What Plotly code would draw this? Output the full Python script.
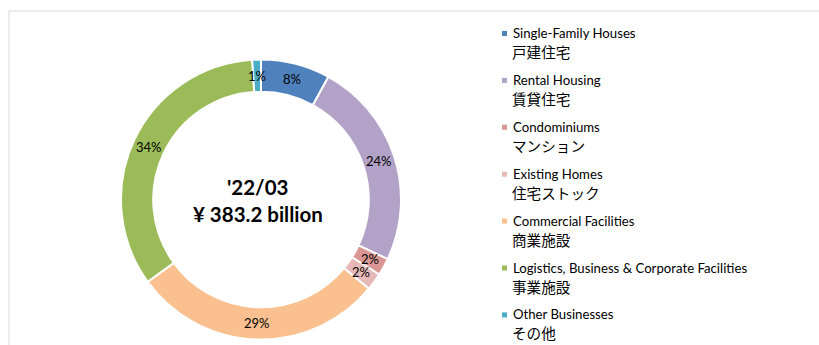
import math
import plotly.graph_objects as go

# Segment breakdown, fiscal year ending March 2022
categories_en = [
    "Single-Family Houses",
    "Rental Housing",
    "Condominiums",
    "Existing Homes",
    "Commercial Facilities",
    "Logistics, Business & Corporate Facilities",
    "Other Businesses",
]
categories_ja = ["戸建住宅", "賃貸住宅", "マンション", "住宅ストック", "商業施設", "事業施設", "その他"]
shares = [8, 24, 2, 2, 29, 34, 1]  # percent of total
colors = ["#4F81BD", "#B3A2C7", "#D99694", "#E6B9B8", "#FAC090", "#9BBB59", "#4BACC6"]
period = "'22/03"
total_label = "¥ 383.2 billion"

W, H = 819, 345
LATIN = "Lato, 'Noto Sans CJK JP', sans-serif"
CJK = "'Noto Sans CJK JP', Lato, sans-serif"

# Donut geometry in pixels
CX, CY, R_OUT = 261, 199.5, 140
HOLE = 0.77
R_MID = R_OUT * (1 + HOLE) / 2


def px(x):
    return x / W


def py(y):
    return 1 - y / H


fig = go.Figure(
    go.Pie(
        values=shares,
        labels=categories_en,
        marker=dict(colors=colors, line=dict(color="white", width=2)),
        hole=HOLE,
        sort=False,
        direction="clockwise",
        rotation=0,
        textinfo="none",
        showlegend=False,
        domain=dict(
            x=[px(CX - R_OUT), px(CX + R_OUT)],
            y=[py(CY + R_OUT), py(CY - R_OUT)],
        ),
    )
)

annotations = []

# Percentage labels placed at the middle of each ring segment
total = sum(shares)
cum = 0
for v in shares:
    mid = (cum + v / 2) / total * 2 * math.pi
    cum += v
    x = CX + R_MID * math.sin(mid)
    y = CY - R_MID * math.cos(mid)
    annotations.append(dict(
        x=px(x), y=py(y), xref="paper", yref="paper",
        text=f"{round(v / total * 100)}%", showarrow=False,
        font=dict(family=LATIN, size=13, color="#000"),
        xanchor="center", yanchor="middle",
    ))

# Centre caption
annotations.append(dict(
    x=px(CX - 4), y=py(187), xref="paper", yref="paper", text=f"<b>{period}</b>",
    showarrow=False, font=dict(family=LATIN, size=20.5, color="#000"),
    xanchor="center", yanchor="middle",
))
annotations.append(dict(
    x=px(CX - 3), y=py(213.5), xref="paper", yref="paper", text=f"<b>{total_label}</b>",
    showarrow=False, font=dict(family=LATIN, size=20.5, color="#000"),
    xanchor="center", yanchor="middle",
))

# Legend: colour square, English name, Japanese name
shapes = []
LEG_X, LEG_Y0, LEG_STEP = 511, 33, 46.9
for i, (en, ja, c) in enumerate(zip(categories_en, categories_ja, colors)):
    y = LEG_Y0 + i * LEG_STEP
    shapes.append(dict(
        type="rect", xref="paper", yref="paper",
        x0=px(502), x1=px(507), y0=py(y + 3), y1=py(y - 2),
        fillcolor=c, line=dict(width=0),
    ))
    annotations.append(dict(
        x=px(LEG_X), y=py(y), xref="paper", yref="paper", text=en,
        showarrow=False, font=dict(family=LATIN, size=13.2, color="#000"),
        xanchor="left", yanchor="middle",
    ))
    annotations.append(dict(
        x=px(LEG_X - 1), y=py(y + 18.5), xref="paper", yref="paper", text=ja,
        showarrow=False, font=dict(family=CJK, size=14.6, color="#000"),
        xanchor="left", yanchor="middle",
    ))

# Chart frame
shapes.append(dict(type="line", xref="paper", yref="paper",
                   x0=px(9), x1=1, y0=py(11), y1=py(11),
                   line=dict(color="#D9D9D9", width=1)))
shapes.append(dict(type="line", xref="paper", yref="paper",
                   x0=px(9), x1=px(9), y0=py(11), y1=0,
                   line=dict(color="#D9D9D9", width=1)))

fig.update_layout(
    width=W, height=H,
    margin=dict(l=0, r=0, t=0, b=0),
    paper_bgcolor="white", plot_bgcolor="white",
    annotations=annotations, shapes=shapes,
)

fig.write_html("out.html")
